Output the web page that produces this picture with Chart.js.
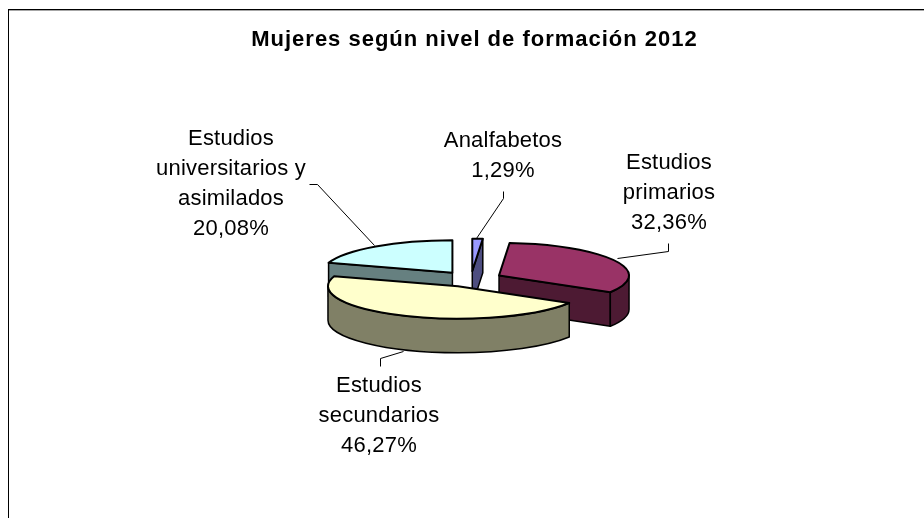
<!DOCTYPE html>
<html>
<head>
<meta charset="utf-8">
<title>Mujeres según nivel de formación 2012</title>
<script src="https://cdn.jsdelivr.net/npm/chart.js@4"></script>
<style>
    body { margin: 0; background: #fff; }
    canvas { display: block; }
</style>
</head>
<body>
<canvas id="pieChart" width="924" height="518"></canvas>
<script>
const chartTitle = 'Mujeres según nivel de formación 2012';
const categories = [
    ['Analfabetos'],
    ['Estudios', 'primarios'],
    ['Estudios', 'secundarios'],
    ['Estudios', 'universitarios y', 'asimilados']
];
const shares = [1.29, 32.36, 46.27, 20.08];
const topColors = ['#9999ff', '#993366', '#ffffcc', '#ccffff'];
const sideColors = ['#4d4d80', '#4d1a33', '#808066', '#668080'];

// where each label sits and how its leader line runs
const labelCenters = [[503, 147], [669, 169], [379, 392], [231, 145]];
const leaders = [
    [[503, 191], [503, 198], [476, 238]],
    [[668, 243], [668, 251], [617, 258]],
    [[380, 366], [380, 358], [403, 351]],
    [[309, 184], [317, 184], [374, 245]]
];

const squash = 0.25;   // flattening of the pie
const depth = 34;      // height of the extrusion
const drawOrder = [3, 0, 1, 2];   // back to front

function drawSlice(ctx, arc, top, side) {
    const p = arc.getProps(['x', 'y', 'startAngle', 'endAngle', 'outerRadius']);
    const mid = (p.startAngle + p.endAngle) / 2;
    const cx = p.x + Math.cos(mid) * arc.options.offset;
    const cy = p.y + Math.sin(mid) * arc.options.offset * squash;
    const r = p.outerRadius;
    const ry = r * squash;
    const a = p.startAngle;
    const b = p.endAngle;

    ctx.strokeStyle = '#000';
    ctx.lineJoin = 'round';
    ctx.fillStyle = side;
    ctx.lineWidth = 1.5;

    // cut faces that look towards the viewer
    const face = (ang) => {
        ctx.beginPath();
        ctx.moveTo(cx, cy);
        ctx.lineTo(cx + r * Math.cos(ang), cy + ry * Math.sin(ang));
        ctx.lineTo(cx + r * Math.cos(ang), cy + ry * Math.sin(ang) + depth);
        ctx.lineTo(cx, cy + depth);
        ctx.closePath();
        ctx.fill();
        ctx.stroke();
    };
    if (Math.cos(a) < -1e-6) face(a);
    if (Math.cos(b) > 1e-6) face(b);

    // outer wall, only the front half of the rim shows
    for (const k of [-2, 0, 2]) {
        const from = Math.max(a, k * Math.PI);
        const to = Math.min(b, (k + 1) * Math.PI);
        if (to <= from) continue;
        ctx.beginPath();
        ctx.ellipse(cx, cy, r, ry, 0, from, to);
        ctx.ellipse(cx, cy + depth, r, ry, 0, to, from, true);
        ctx.closePath();
        ctx.fill();
        ctx.stroke();
    }

    ctx.fillStyle = top;
    ctx.lineWidth = 2;
    ctx.beginPath();
    ctx.moveTo(cx, cy);
    ctx.ellipse(cx, cy, r, ry, 0, a, b);
    ctx.closePath();
    ctx.fill();
    ctx.stroke();
}

const pie3d = {
    id: 'pie3d',
    beforeDraw(chart) {
        const ctx = chart.ctx;
        ctx.save();
        ctx.fillStyle = '#fff';
        ctx.fillRect(0, 0, chart.width, chart.height);
        // frame: only top and left edges are in the picture
        ctx.fillStyle = '#000';
        ctx.fillRect(8, 9, chart.width - 8, 1);
        ctx.fillRect(8, 9, 1, chart.height - 9);
        ctx.fillStyle = '#a6a6a6';
        ctx.fillRect(9, 10, chart.width - 9, 1);
        ctx.restore();
    },
    beforeDatasetDraw() {
        return false;   // the flat arcs are replaced by the extruded ones
    },
    afterDatasetsDraw(chart) {
        const ctx = chart.ctx;
        const arcs = chart.getDatasetMeta(0).data;
        ctx.save();
        drawOrder.forEach(i => drawSlice(ctx, arcs[i], topColors[i], sideColors[i]));

        ctx.strokeStyle = '#000';
        ctx.lineWidth = 1;
        leaders.forEach(pts => {
            ctx.beginPath();
            pts.forEach(([x, y], n) => n ? ctx.lineTo(x + 0.5, y + 0.5) : ctx.moveTo(x + 0.5, y + 0.5));
            ctx.stroke();
        });

        ctx.fillStyle = '#000';
        ctx.textAlign = 'center';
        ctx.textBaseline = 'alphabetic';
        ctx.font = 'bold 22px "Liberation Sans", Arial, sans-serif';
        ctx.letterSpacing = '1px';
        ctx.fillText(chartTitle, 474.5, 46);

        ctx.font = '22px "Liberation Sans", Arial, sans-serif';
        ctx.letterSpacing = '0.2px';
        categories.forEach((lines, i) => {
            const text = lines.concat(shares[i].toFixed(2).replace('.', ',') + '%');
            text.forEach((t, n) => ctx.fillText(t, labelCenters[i][0], labelCenters[i][1] + n * 30));
        });
        ctx.restore();
    }
};

new Chart(document.getElementById('pieChart').getContext('2d'), {
    type: 'pie',
    data: {
        labels: categories.map(c => c.join(' ')),
        datasets: [{
            data: shares,
            backgroundColor: topColors,
            radius: 130,
            offset: 31.5,
            borderWidth: 0
        }]
    },
    options: {
        responsive: false,
        animation: false,
        layout: { padding: { left: 18, right: 0, top: 40, bottom: 0 } },
        plugins: {
            legend: { display: false },
            tooltip: { enabled: false }
        }
    },
    plugins: [pie3d]
});
</script>
</body>
</html>
